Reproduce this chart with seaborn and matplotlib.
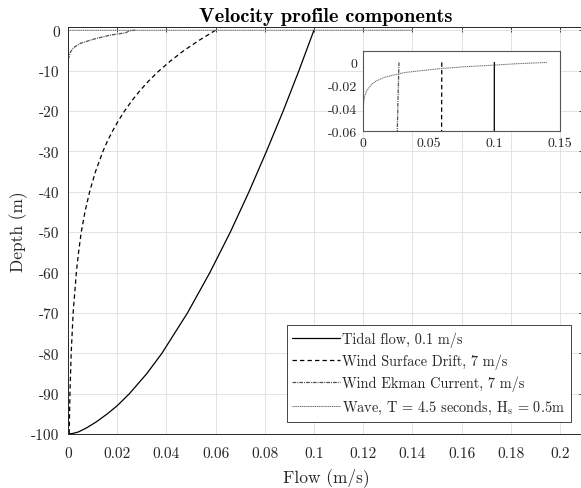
import matplotlib
matplotlib.use("Agg")
import matplotlib.pyplot as plt
import seaborn as sns
from matplotlib.ticker import FixedLocator, FixedFormatter

# ---------------- data ----------------
tidal_depth = [0, -10, -20, -30, -40, -50, -60, -70, -80, -85, -90, -93, -95, -97, -98.5, -99.5, -99.85, -100]
tidal_flow = [0.100, 0.0939, 0.0875, 0.0807, 0.0736, 0.0660, 0.0577, 0.0486, 0.0382, 0.0321,
              0.0250, 0.0200, 0.0160, 0.0115, 0.0075, 0.0042, 0.0020, 0.0]

drift_depth = [0, -2.5, -5, -7.5, -10, -12.5, -15, -17.5, -20, -22.5, -25, -27.5, -30, -35, -40,
               -45, -50, -55, -60, -70, -80, -90, -100]
drift_flow = [0.060, 0.0533, 0.0472, 0.0419, 0.0371, 0.0329, 0.0292, 0.0259, 0.0230, 0.0204,
              0.0181, 0.0160, 0.0142, 0.0112, 0.0088, 0.0069, 0.0054, 0.0043, 0.0034, 0.0021,
              0.0013, 0.0008, 0.0005]

ekman_depth = [0, -0.03, -0.06, -0.15, -0.3, -0.6, -0.9, -1.2, -1.7, -2.2, -3.2, -4.3, -5.5, -7, -8, -100]
ekman_flow = [0.0274, 0.0267, 0.0261, 0.0252, 0.0245, 0.0236, 0.0205, 0.0173, 0.0138, 0.0105,
              0.0052, 0.0023, 0.0009, 0.0002, 0.0, 0.0]

wave_depth = [0, -0.0012, -0.0024, -0.0038, -0.0053, -0.007, -0.0088, -0.011, -0.0132, -0.016,
              -0.019, -0.0249, -0.03, -0.0337, -0.04, -0.06, -100]
wave_flow = [0.140, 0.116, 0.0993, 0.077, 0.0599, 0.046, 0.032, 0.0235, 0.0160, 0.0105,
             0.0066, 0.0028, 0.0012, 0.0006, 0.0002, 0.0, 0.0]

labels = ["Tidal flow, 0.1 m/s",
          "Wind Surface Drift, 7 m/s",
          "Wind Ekman Current, 7 m/s",
          r"Wave, T = 4.5 seconds, H$_\mathrm{s}$ = 0.5m"]

x_ticks = [0, 0.02, 0.04, 0.06, 0.08, 0.1, 0.12, 0.14, 0.16, 0.18, 0.2]
x_tick_labels = ["0", "0.02", "0.04", "0.06", "0.08", "0.1", "0.12", "0.14", "0.16", "0.18", "0.2"]
y_ticks = [-100, -90, -80, -70, -60, -50, -40, -30, -20, -10, 0]
y_tick_labels = ["-100", "-90", "-80", "-70", "-60", "-50", "-40", "-30", "-20", "-10", "0"]

inset_x_ticks = [0, 0.05, 0.1, 0.15]
inset_x_tick_labels = ["0", "0.05", "0.1", "0.15"]
inset_y_ticks = [-0.06, -0.04, -0.02, 0]
inset_y_tick_labels = ["-0.06", "-0.04", "-0.02", "0"]

title = "Velocity profile components"
xlabel = "Flow (m/s)"
ylabel = "Depth (m)"

# ---------------- style ----------------
sns.set_style("white")
plt.rcParams.update({
    "font.family": ["cmr10", "DejaVu Serif"],
    "mathtext.fontset": "cm",
    "axes.unicode_minus": False,
    "axes.formatter.use_mathtext": True,
})

DARK = "#262626"
series = [
    (tidal_flow, tidal_depth, dict(color="black", linestyle="-", lw=0.9)),
    (drift_flow, drift_depth, dict(color="black", linestyle=(0, (3.5, 2.5)), lw=0.9)),
    (ekman_flow, ekman_depth, dict(color="#505050", linestyle=(0, (3, 0.8, 0.8, 0.8)), lw=0.9)),
    (wave_flow, wave_depth, dict(color="#707070", linestyle=(0, (1.2, 0.6)), lw=0.75)),
]

fig = plt.figure(figsize=(5.81, 4.89), dpi=100)
ax = fig.add_axes([0.117, 0.1104, 0.889, 0.8323])

for (xv, yv, kw), lab in zip(series, labels):
    sns.lineplot(x=xv, y=yv, orient="y", sort=False, estimator=None, ax=ax, label=lab, **kw)

ax.set_xlim(0, 0.21)
ax.set_ylim(-100, 0.8)
ax.xaxis.set_major_locator(FixedLocator(x_ticks))
ax.xaxis.set_major_formatter(FixedFormatter(x_tick_labels))
ax.yaxis.set_major_locator(FixedLocator(y_ticks))
ax.yaxis.set_major_formatter(FixedFormatter(y_tick_labels))
ax.tick_params(direction="in", top=True, right=True, length=3.5, width=0.6,
               color=DARK, labelcolor=DARK, labelsize=11)
ax.tick_params(axis="x", pad=9)
ax.tick_params(axis="y", pad=6)
ax.grid(True, color="#dedede", lw=0.6)
ax.set_axisbelow(True)
for s in ax.spines.values():
    s.set_color(DARK)
    s.set_linewidth(0.7)
ax.set_xlabel(xlabel, fontsize=12.5, color=DARK, labelpad=5)
ax.set_ylabel(ylabel, fontsize=12.5, color=DARK, labelpad=2)
ax.set_title(title, fontfamily="cmb10", fontsize=14.8, color="black", pad=4)

leg = ax.legend(loc="lower right", bbox_to_anchor=(571 / 581, (489 - 423) / 489),
                bbox_transform=fig.transFigure, borderaxespad=0, fontsize=10.3,
                fancybox=False, framealpha=1, handlelength=3.3, handletextpad=0.2,
                borderpad=0.4, labelspacing=0.48)
leg.get_frame().set_edgecolor(DARK)
leg.get_frame().set_linewidth(0.6)
for t in leg.get_texts():
    t.set_color(DARK)

# ---------------- inset ----------------
axin = fig.add_axes([363 / 581, (489 - 132) / 489, 197 / 581, 80 / 489])
for xv, yv, kw in series:
    sns.lineplot(x=xv, y=yv, orient="y", sort=False, estimator=None, ax=axin, **kw)
axin.set_xlim(0, 0.15)
axin.set_ylim(-0.06, 0.01)
axin.xaxis.set_major_locator(FixedLocator(inset_x_ticks))
axin.xaxis.set_major_formatter(FixedFormatter(inset_x_tick_labels))
axin.yaxis.set_major_locator(FixedLocator(inset_y_ticks))
axin.yaxis.set_major_formatter(FixedFormatter(inset_y_tick_labels))
axin.tick_params(direction="in", top=False, right=False, length=3, width=0.6,
                 color=DARK, labelcolor=DARK, labelsize=10, pad=4)
axin.grid(False)
axin.set_facecolor("white")
for s in axin.spines.values():
    s.set_color("#555555")
    s.set_linewidth(0.8)
axin.set_xlabel("")
axin.set_ylabel("")

fig.savefig("out.png", dpi=100)
